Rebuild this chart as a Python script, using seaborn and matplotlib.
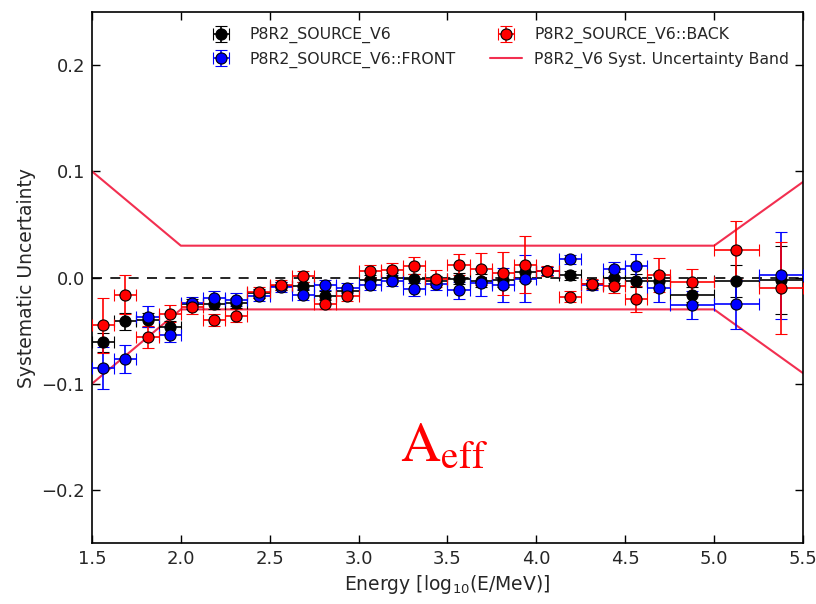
import numpy as np
import pandas as pd
import matplotlib
matplotlib.use("Agg")
import matplotlib.pyplot as plt
import seaborn as sns

# ---------------- data ----------------
energy = [1.5625, 1.6875, 1.8125, 1.9375, 2.0625, 2.1875, 2.3125, 2.4375,
          2.5625, 2.6875, 2.8125, 2.9375, 3.0625, 3.1875, 3.3125, 3.4375,
          3.5625, 3.6875, 3.8125, 3.9375, 4.0625, 4.1875, 4.3125, 4.4375,
          4.5625, 4.6875, 4.875, 5.125, 5.375]
energy_halfwidth = [0.0625] * 26 + [0.125, 0.125, 0.125]

source_val = [-0.061, -0.041, -0.040, -0.047, -0.025, -0.025, -0.024, -0.015,
              -0.008, -0.008, -0.017, -0.013, -0.002, 0.000, -0.001, -0.003,
              -0.001, -0.003, -0.002, 0.005, 0.006, 0.002, -0.006, 0.000,
              -0.003, -0.003, -0.016, -0.003, -0.002]
source_err = [0.009, 0.008, 0.007, 0.006, 0.005, 0.005, 0.005, 0.004,
              0.004, 0.004, 0.004, 0.004, 0.004, 0.004, 0.004, 0.004,
              0.005, 0.006, 0.007, 0.008, 0.004, 0.004, 0.004, 0.005,
              0.006, 0.007, 0.007, 0.015, 0.032]

front_val = [-0.085, -0.077, -0.037, -0.054, -0.024, -0.019, -0.021, -0.017,
             -0.009, -0.016, -0.007, -0.010, -0.007, -0.003, -0.011, -0.006,
             -0.012, -0.005, -0.007, -0.001, 0.006, 0.017, -0.007, 0.008,
             0.011, -0.010, -0.026, -0.025, 0.002]
front_err = [0.020, 0.013, 0.010, 0.007, 0.006, 0.006, 0.006, 0.005,
             0.005, 0.005, 0.005, 0.005, 0.005, 0.005, 0.006, 0.006,
             0.008, 0.012, 0.016, 0.022, 0.004, 0.004, 0.005, 0.007,
             0.011, 0.013, 0.013, 0.023, 0.041]

back_val = [-0.045, -0.016, -0.056, -0.034, -0.028, -0.040, -0.036, -0.014,
            -0.007, 0.001, -0.025, -0.017, 0.006, 0.007, 0.011, -0.001,
            0.012, 0.008, 0.004, 0.012, 0.006, -0.018, -0.006, -0.008,
            -0.020, 0.002, -0.004, 0.026, -0.010]
back_err = [0.026, 0.018, 0.010, 0.008, 0.006, 0.006, 0.006, 0.005,
            0.005, 0.005, 0.005, 0.005, 0.006, 0.007, 0.008, 0.008,
            0.010, 0.015, 0.020, 0.027, 0.005, 0.005, 0.005, 0.007,
            0.012, 0.016, 0.012, 0.027, 0.043]

band_x = [1.5, 2.0, 5.0, 5.5]
band_upper = [0.10, 0.03, 0.03, 0.09]
band_lower = [-0.10, -0.03, -0.03, -0.09]

labels = ["P8R2_SOURCE_V6", "P8R2_SOURCE_V6::FRONT",
          "P8R2_SOURCE_V6::BACK", "P8R2_V6 Syst. Uncertainty Band"]

# ---------------- style ----------------
sns.set_style("ticks")
plt.rcParams["font.family"] = ["DejaVu Sans"]
plt.rcParams["xtick.direction"] = "in"
plt.rcParams["ytick.direction"] = "in"

band_color = "#f22f50"

fig = plt.figure(figsize=(8.16, 6.04), dpi=100)
ax = fig.add_axes([0.1127, 0.101, 0.8713, 0.879])

band_df = pd.DataFrame({"x": band_x * 2,
                        "y": band_upper + band_lower,
                        "side": ["upper"] * 4 + ["lower"] * 4})
sns.lineplot(data=band_df, x="x", y="y", units="side", estimator=None,
             color=band_color, lw=1.5, ax=ax, zorder=1, legend=False)
band_handle = plt.Line2D([], [], color=band_color, lw=1.5)

ax.axhline(0.0, color="black", ls="--", lw=1.2, dashes=(6, 5), zorder=1.5)

series = [(source_val, source_err, "black"),
          (front_val, front_err, "#0000ff"),
          (back_val, back_err, "#ff0000")]
handles = []
for vals, errs, col in series:
    h = ax.errorbar(energy, vals, yerr=errs, xerr=energy_halfwidth, fmt="o",
                    color=col, ecolor=col, mfc=col, mec="black", mew=0.8,
                    ms=8, elinewidth=1.2, capsize=4, capthick=1.2, zorder=3)
    handles.append(h)
handles.append(band_handle)

ax.set_xlim(1.5, 5.5)
ax.set_ylim(-0.25, 0.25)
xt = np.arange(1.5, 5.51, 0.5)
ax.set_xticks(xt)
ax.set_yticks([-0.2, -0.1, 0.0, 0.1, 0.2])
ax.set_xticklabels([f"{v:.1f}" for v in xt])
ax.set_yticklabels(["\u22120.2", "\u22120.1", "0.0", "0.1", "0.2"])
ax.tick_params(axis="both", which="major", labelsize=13, length=6, width=1,
               top=True, right=True, color="black", pad=5)
for sp in ax.spines.values():
    sp.set_visible(True)
    sp.set_linewidth(1.2)
    sp.set_color("black")

ax.set_xlabel(r"Energy [log$_{10}$(E/MeV)]", fontsize=13.5)
ax.set_ylabel("Systematic Uncertainty", fontsize=13.5)

ax.legend(handles, labels, loc="upper center", ncol=2, frameon=False,
          fontsize=11.3, numpoints=1, handlelength=2.0, handletextpad=0.8,
          columnspacing=2.2, bbox_to_anchor=(0.570, 0.998))

ax.text(3.48, -0.158, r"$\mathrm{A}_{\mathrm{eff}}$", color="red",
        fontsize=40, ha="center", va="center", math_fontfamily="stix")

fig.savefig("out.png", dpi=100)
